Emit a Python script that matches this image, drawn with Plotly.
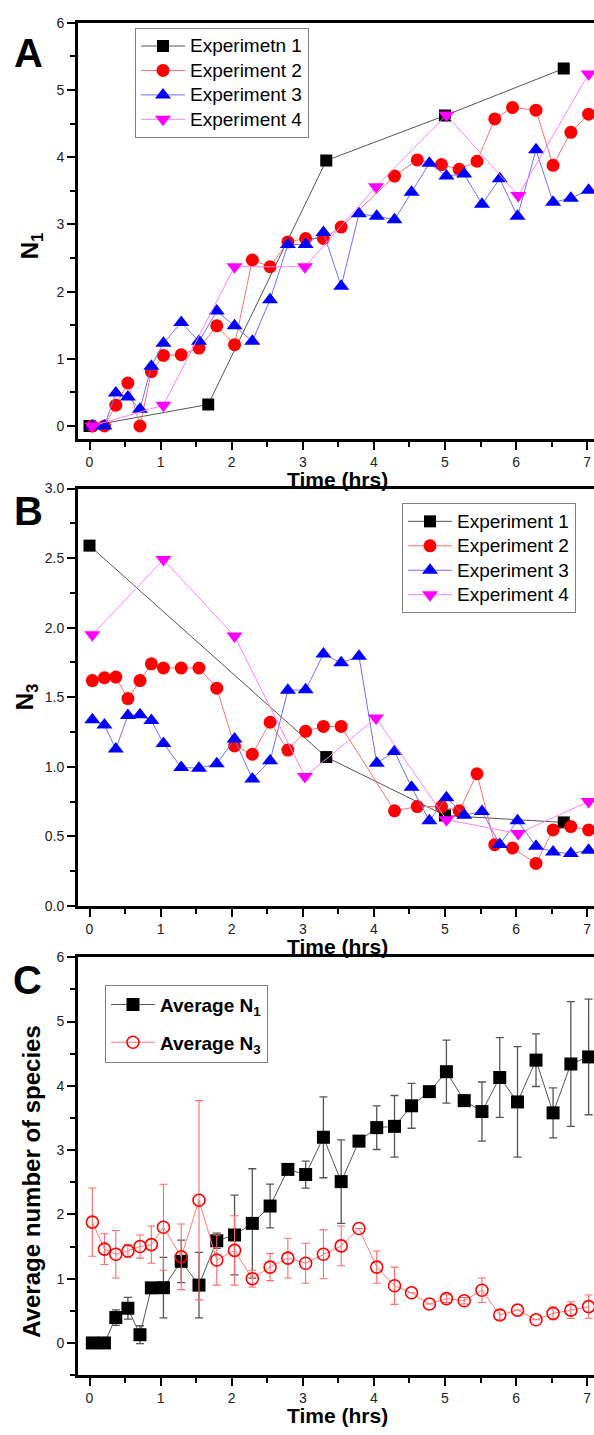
import plotly.graph_objects as go

FONT = "Arial, Liberation Sans, sans-serif"

# ---- Panel A / B : individual experiments ----
t_exp1_n1 = [0.0, 1.67, 3.33, 5.0, 6.67]
n1_exp1 = [0.0, 0.32, 3.95, 4.62, 5.32]
t_exp1_n3 = [0.0, 3.33, 5.0, 6.67]
n3_exp1 = [2.59, 1.07, 0.65, 0.60]

t_exp2 = [0.04, 0.21, 0.37, 0.54, 0.71, 0.87, 1.04, 1.29, 1.54, 1.79, 2.04, 2.29, 2.54, 2.79,
          3.04, 3.29, 3.54, 4.29, 4.61, 4.95, 5.20, 5.45, 5.70, 5.95, 6.28, 6.52, 6.77, 7.02]
n1_exp2 = [0.0, 0.0, 0.31, 0.64, 0.0, 0.81, 1.05, 1.06, 1.16, 1.49, 1.21, 2.47, 2.37, 2.74,
           2.79, 2.79, 2.96, 3.72, 3.96, 3.89, 3.82, 3.94, 4.57, 4.74, 4.70, 3.88, 4.37, 4.64]
n3_exp2 = [1.62, 1.64, 1.645, 1.49, 1.62, 1.74, 1.71, 1.71, 1.71, 1.565, 1.15, 1.09, 1.32, 1.12,
           1.255, 1.29, 1.29, 0.683, 0.714, 0.714, 0.683, 0.95, 0.44, 0.416, 0.305, 0.546, 0.57, 0.546]

t_exp3 = [0.04, 0.21, 0.37, 0.54, 0.71, 0.87, 1.04, 1.29, 1.54, 1.79, 2.04, 2.29, 2.54, 2.79,
          3.04, 3.29, 3.54, 3.79, 4.04, 4.29, 4.53, 4.78, 5.02, 5.27, 5.52, 5.77, 6.02, 6.28,
          6.52, 6.77, 7.02]
n1_exp3 = [0.0, 0.0, 0.49, 0.43, 0.25, 0.89, 1.23, 1.54, 1.26, 1.71, 1.49, 1.26, 1.88, 2.70,
           2.70, 2.88, 2.08, 3.16, 3.12, 3.07, 3.48, 3.91, 3.72, 3.75, 3.30, 3.68, 3.12, 4.11,
           3.33, 3.39, 3.51]
n3_exp3 = [1.338, 1.30, 1.128, 1.369, 1.374, 1.333, 1.168, 0.995, 0.99, 1.021, 1.199, 0.913,
           1.043, 1.55, 1.553, 1.81, 1.747, 1.794, 1.026, 1.109, 0.853, 0.612, 0.778, 0.652,
           0.679, 0.442, 0.612, 0.428, 0.388, 0.376, 0.40]

t_exp4 = [0.04, 1.04, 2.04, 3.03, 4.03, 5.02, 6.03, 7.02]
n1_exp4 = [0.0, 0.31, 2.37, 2.37, 3.56, 4.63, 3.43, 5.24]
n3_exp4 = [1.95, 2.49, 1.94, 0.93, 1.35, 0.62, 0.52, 0.75]

# ---- Panel C : averages with error bars ----
t_avg = t_exp3
avg_n1 = [0.0, 0.0, 0.395, 0.54, 0.128, 0.857, 0.86, 1.27, 0.90, 1.59, 1.68, 1.86, 2.13, 2.70,
          2.62, 3.20, 2.51, 3.14, 3.35, 3.37, 3.69, 3.91, 4.22, 3.77, 3.60, 4.13, 3.75, 4.40,
          3.58, 4.34, 4.45]
err_n1 = [0.0, 0.0, 0.12, 0.17, 0.14, 0.0, 0.47, 0.33, 0.51, 0.12, 0.62, 0.85, 0.34, 0.0,
          0.21, 0.63, 0.65, 0.0, 0.34, 0.48, 0.35, 0.0, 0.49, 0.0, 0.46, 0.62, 0.86, 0.41,
          0.39, 0.97, 0.90]
avg_n3 = [1.88, 1.46, 1.38, 1.43, 1.50, 1.53, 1.80, 1.34, 2.22, 1.29, 1.44, 1.0, 1.18, 1.32,
          1.24, 1.38, 1.51, 1.78, 1.18, 0.89, 0.78, 0.605, 0.69, 0.657, 0.82, 0.435, 0.51, 0.36,
          0.46, 0.51, 0.565]
err_n3 = [0.53, 0.24, 0.37, 0.10, 0.18, 0.29, 0.67, 0.51, 1.55, 0.39, 0.54, 0.13, 0.21, 0.31,
          0.31, 0.38, 0.31, 0.0, 0.25, 0.29, 0.0, 0.0, 0.06, 0.05, 0.19, 0.07, 0.0, 0.0,
          0.10, 0.13, 0.18]

exp_names_a = ["Experimetn 1", "Experiment 2", "Experiment 3", "Experiment 4"]
exp_names_b = ["Experiment 1", "Experiment 2", "Experiment 3", "Experiment 4"]

W, H = 594, 1435


def px_x(p):
    return p / W


def px_y(p):
    return 1 - p / H


styles = [
    dict(symbol="square", size=12, color="#000000", line="#555555"),
    dict(symbol="circle", size=13, color="#ff0000", line="#ff7070"),
    dict(symbol="triangle-up", size=14, color="#0000ff", line="#7070ff"),
    dict(symbol="triangle-down", size=14, color="#ff00ff", line="#ff80ff"),
]


def leg_text(s):
    return "<span style='font-size:19px'>%s</span>" % s


fig = go.Figure()

series_a = [(t_exp1_n1, n1_exp1), (t_exp2, n1_exp2), (t_exp3, n1_exp3), (t_exp4, n1_exp4)]
series_b = [(t_exp1_n3, n3_exp1), (t_exp2, n3_exp2), (t_exp3, n3_exp3), (t_exp4, n3_exp4)]

for (x, y), st, nm in zip(series_a, styles, exp_names_a):
    fig.add_trace(go.Scatter(
        x=x, y=y, mode="lines+markers", name=leg_text(nm),
        xaxis="x", yaxis="y", legend="legend",
        line=dict(color=st["line"], width=1),
        marker=dict(symbol=st["symbol"], size=st["size"], color=st["color"]),
    ))

for (x, y), st, nm in zip(series_b, styles, exp_names_b):
    fig.add_trace(go.Scatter(
        x=x, y=y, mode="lines+markers", name=leg_text(nm),
        xaxis="x2", yaxis="y2", legend="legend2",
        line=dict(color=st["line"], width=1),
        marker=dict(symbol=st["symbol"], size=st["size"], color=st["color"]),
    ))

fig.add_trace(go.Scatter(
    x=t_avg, y=avg_n1, mode="lines+markers", name="<b>Average N<sub>1</sub></b>",
    xaxis="x3", yaxis="y3", legend="legend3", legendgroup="n1",
    line=dict(color="#555555", width=1),
    marker=dict(symbol="square", size=13, color="#000000"),
    error_y=dict(type="data", array=err_n1, color="#555555", thickness=1.3, width=4),
))
fig.add_trace(go.Scatter(
    x=t_avg, y=avg_n3, mode="lines+markers", name="<b>Average N<sub>3</sub></b>",
    xaxis="x3", yaxis="y3", legend="legend3", legendgroup="n3",
    line=dict(color="#ff7a7a", width=1),
    marker=dict(symbol="circle-open", size=12, color="#ff0000", line=dict(width=1.6)),
    error_y=dict(type="data", array=err_n3, color="#ff6a6a", thickness=1.1, width=4),
))

x_left = 78
x_range = [-(89.5 - x_left) / 71.1, (W - 89.5) / 71.1]

tickfont = dict(family=FONT, size=14, color="#222222")


def xaxis_cfg(anchor):
    return dict(
        domain=[px_x(x_left), 1], range=x_range, anchor=anchor,
        showline=True, linewidth=3, linecolor="black", mirror=True,
        ticks="outside", ticklen=8, tickwidth=2, tickcolor="black",
        tick0=0, dtick=1, showgrid=False, zeroline=False,
        minor=dict(ticks="outside", ticklen=5, tickwidth=2, dtick=0.5, tick0=0, tickcolor="black"),
        tickfont=tickfont,
    )


def yaxis_cfg(anchor, dom, rng, dtick, minor_dtick, fmt=None):
    cfg = dict(
        domain=[px_y(dom[1]), px_y(dom[0])], range=rng, anchor=anchor,
        showline=True, linewidth=3, linecolor="black", mirror=False,
        ticks="outside", ticklen=8, tickwidth=2, tickcolor="black",
        tick0=0, dtick=dtick, showgrid=False, zeroline=False,
        minor=dict(ticks="outside", ticklen=5, tickwidth=2, dtick=minor_dtick, tick0=0, tickcolor="black"),
        tickfont=tickfont,
    )
    if fmt:
        cfg["tickformat"] = fmt
    return cfg


legend_common = dict(
    xanchor="left", yanchor="top", bgcolor="white",
    bordercolor="#808080", borderwidth=1, itemwidth=44,
)

annotations = []
for txt, x, y in [("A", 28.5, 46), ("B", 28.5, 508.5), ("C", 27.5, 982.5)]:
    annotations.append(dict(
        text="<b>%s</b>" % txt, x=px_x(x), y=px_y(y), xref="paper", yref="paper",
        xanchor="center", yanchor="middle", showarrow=False,
        font=dict(family=FONT, size=40, color="black"),
    ))
for y in [477, 949, 1423]:
    annotations.append(dict(
        text="<b>Time (hrs)</b>", x=px_x(337), y=px_y(y), xref="paper", yref="paper",
        xanchor="center", yanchor="middle", showarrow=False,
        font=dict(family=FONT, size=21, color="black"),
    ))
for txt, x, y in [("<b>N<sub>1</sub></b>", 31, 241), ("<b>N<sub>3</sub></b>", 26, 697),
                  ("<b>Average number of species</b>", 32, 1187)]:
    annotations.append(dict(
        text=txt, x=px_x(x), y=px_y(y), xref="paper", yref="paper", textangle=-90,
        xanchor="center", yanchor="middle", showarrow=False,
        font=dict(family=FONT, size=24, color="black"),
    ))

fig.update_layout(
    width=W, height=H,
    margin=dict(l=0, r=0, t=0, b=0),
    paper_bgcolor="white", plot_bgcolor="white",
    font=dict(family=FONT, color="black"),
    xaxis=xaxis_cfg("y"),
    yaxis=yaxis_cfg("x", (15, 436.3), [-0.2, 6], 1, 0.5),
    xaxis2=xaxis_cfg("y2"),
    yaxis2=yaxis_cfg("x2", (486, 908), [0, 3], 0.5, 0.25, ".1f"),
    xaxis3=xaxis_cfg("y3"),
    yaxis3=yaxis_cfg("x3", (960, 1382.5), [-0.5, 6], 1, 0.5),
    legend=dict(x=px_x(135), y=px_y(20), font=dict(family=FONT, size=16.5, color="black"),
                **legend_common),
    legend2=dict(x=px_x(402), y=px_y(500.7), font=dict(family=FONT, size=16.5, color="black"),
                 **legend_common),
    legend3=dict(x=px_x(105), y=px_y(987.7), font=dict(family=FONT, size=19, color="black"),
                 traceorder="grouped", tracegroupgap=10, **legend_common),
    annotations=annotations,
)

fig.write_html("out.html")
